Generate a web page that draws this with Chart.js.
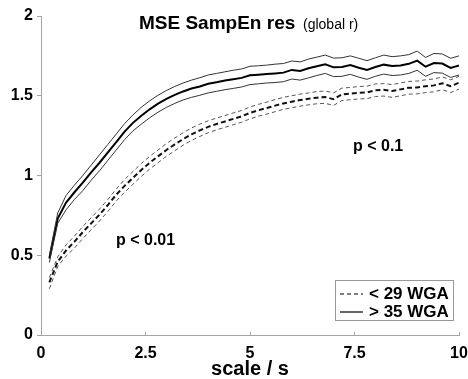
<!DOCTYPE html>
<html>
<head>
<meta charset="utf-8">
<script src="https://cdn.jsdelivr.net/npm/chart.js@4/dist/chart.umd.min.js"></script>
<style>
  html, body { margin: 0; padding: 0; background: #fff; }
  #wrap { width: 468px; height: 379px; }
</style>
</head>
<body>
<div id="wrap"><canvas id="mse" width="468" height="379"></canvas></div>
<script>
// scale axis (s), one point every 0.2 s
const scales = [0.2, 0.4, 0.6, 0.8, 1.0, 1.2, 1.4, 1.6, 1.8, 2.0,
                2.2, 2.4, 2.6, 2.8, 3.0, 3.2, 3.4, 3.6, 3.8, 4.0,
                4.2, 4.4, 4.6, 4.8, 5.0, 5.2, 5.4, 5.6, 5.8, 6.0,
                6.2, 6.4, 6.6, 6.8, 7.0, 7.2, 7.4, 7.6, 7.8, 8.0,
                8.2, 8.4, 8.6, 8.8, 9.0, 9.2, 9.4, 9.6, 9.8, 10.0];

// > 35 WGA: mean and upper / lower band
const mean35 = [0.48, 0.73, 0.83, 0.895, 0.955, 1.02, 1.08, 1.145, 1.21, 1.275,
                1.33, 1.375, 1.415, 1.45, 1.48, 1.505, 1.527, 1.545, 1.558, 1.575,
                1.585, 1.595, 1.603, 1.612, 1.628, 1.632, 1.636, 1.64, 1.645, 1.662,
                1.655, 1.672, 1.685, 1.697, 1.678, 1.68, 1.692, 1.676, 1.662, 1.68,
                1.695, 1.686, 1.69, 1.70, 1.72, 1.682, 1.705, 1.702, 1.675, 1.69];
const upper35 = [0.50, 0.765, 0.875, 0.94, 1.0, 1.065, 1.13, 1.195, 1.26, 1.325,
                 1.38, 1.428, 1.468, 1.503, 1.533, 1.558, 1.58, 1.598, 1.613, 1.63,
                 1.64, 1.65, 1.66, 1.668, 1.685, 1.688, 1.692, 1.698, 1.702, 1.718,
                 1.712, 1.73, 1.742, 1.755, 1.736, 1.738, 1.75, 1.735, 1.72, 1.738,
                 1.755, 1.745, 1.75, 1.758, 1.78, 1.74, 1.765, 1.762, 1.735, 1.75];
const lower35 = [0.455, 0.70, 0.785, 0.85, 0.905, 0.97, 1.03, 1.095, 1.16, 1.225,
                 1.28, 1.322, 1.362, 1.397, 1.427, 1.452, 1.474, 1.49, 1.503, 1.518,
                 1.528, 1.538, 1.546, 1.555, 1.57, 1.575, 1.58, 1.583, 1.588, 1.605,
                 1.598, 1.612, 1.627, 1.64, 1.62, 1.622, 1.634, 1.617, 1.603, 1.622,
                 1.636, 1.627, 1.63, 1.64, 1.66, 1.622, 1.645, 1.642, 1.615, 1.63];

// < 29 WGA: mean and upper / lower band
const mean29 = [0.33, 0.46, 0.53, 0.585, 0.645, 0.70, 0.755, 0.815, 0.88, 0.935,
                0.985, 1.035, 1.08, 1.12, 1.16, 1.195, 1.228, 1.258, 1.283, 1.305,
                1.323, 1.339, 1.355, 1.371, 1.393, 1.409, 1.423, 1.438, 1.452, 1.463,
                1.473, 1.481, 1.488, 1.492, 1.478, 1.509, 1.513, 1.519, 1.521, 1.535,
                1.537, 1.53, 1.54, 1.55, 1.552, 1.56, 1.565, 1.578, 1.56, 1.582];
const upper29 = [0.36, 0.49, 0.565, 0.62, 0.68, 0.735, 0.79, 0.85, 0.915, 0.975,
                 1.025, 1.075, 1.12, 1.16, 1.2, 1.235, 1.268, 1.298, 1.322, 1.343,
                 1.36, 1.376, 1.392, 1.408, 1.43, 1.446, 1.46, 1.476, 1.49, 1.5,
                 1.51, 1.518, 1.526, 1.53, 1.518, 1.548, 1.552, 1.558, 1.56, 1.574,
                 1.576, 1.57, 1.58, 1.59, 1.592, 1.6, 1.605, 1.618, 1.6, 1.622];
const lower29 = [0.29, 0.43, 0.495, 0.545, 0.605, 0.66, 0.715, 0.775, 0.84, 0.895,
                 0.945, 0.995, 1.04, 1.08, 1.12, 1.155, 1.19, 1.22, 1.245, 1.268,
                 1.286, 1.302, 1.318, 1.334, 1.355, 1.372, 1.385, 1.4, 1.415, 1.425,
                 1.435, 1.443, 1.45, 1.452, 1.44, 1.47, 1.475, 1.48, 1.482, 1.495,
                 1.498, 1.49, 1.5, 1.51, 1.512, 1.52, 1.525, 1.538, 1.52, 1.542];

const legendLabels = ['< 29 WGA', '> 35 WGA'];
const xTicks = [0, 2.5, 5, 7.5, 10];
const yTicks = [0, 0.5, 1, 1.5, 2];

const FONT = "'Liberation Sans', Arial, sans-serif";
const AXIS_GREY = '#a4a4a4';

function pts(values) {
    return scales.map((s, i) => ({ x: s, y: values[i] }));
}

function line(label, values, width, color, dash) {
    return {
        label: label,
        data: pts(values),
        borderColor: color,
        borderWidth: width,
        borderDash: dash || [],
        pointRadius: 0,
        tension: 0,
        fill: false
    };
}

// title, p-value notes and the boxed legend, drawn over the plot
const overlay = {
    id: 'overlay',
    afterDraw(chart) {
        const ctx = chart.ctx;
        ctx.save();
        ctx.fillStyle = '#000';
        ctx.textBaseline = 'middle';

        ctx.font = 'bold 19px ' + FONT;
        ctx.textAlign = 'left';
        ctx.fillText('MSE SampEn res', 139, 24);
        ctx.font = '14px ' + FONT;
        ctx.fillText('(global r)', 303, 25);

        ctx.font = 'bold 16px ' + FONT;
        ctx.fillText('p < 0.1', 353, 147);
        ctx.fillText('p < 0.01', 116, 241);

        // legend box
        ctx.strokeStyle = '#999';
        ctx.lineWidth = 1;
        ctx.strokeRect(335.5, 280.5, 118, 40);
        ctx.font = 'bold 17px ' + FONT;
        ctx.strokeStyle = '#000';
        ctx.lineWidth = 1.2;
        ctx.setLineDash([4, 3]);
        ctx.beginPath(); ctx.moveTo(340, 294); ctx.lineTo(363, 294); ctx.stroke();
        ctx.setLineDash([]);
        ctx.beginPath(); ctx.moveTo(340, 312); ctx.lineTo(363, 312); ctx.stroke();
        ctx.fillText(legendLabels[0], 369, 294);
        ctx.fillText(legendLabels[1], 369, 312);
        ctx.restore();
    }
};

new Chart(document.getElementById('mse'), {
    type: 'line',
    data: {
        datasets: [
            line('upper29', upper29, 1, '#555', [4, 3]),
            line('lower29', lower29, 1, '#555', [4, 3]),
            line(legendLabels[0], mean29, 2, '#111', [5, 3]),
            line('upper35', upper35, 1, '#333'),
            line('lower35', lower35, 1, '#333'),
            line(legendLabels[1], mean35, 2, '#000')
        ]
    },
    options: {
        responsive: false,
        animation: false,
        layout: { padding: { top: 16, right: 9, left: 0, bottom: 0 } },
        plugins: {
            legend: { display: false },
            tooltip: { enabled: false }
        },
        scales: {
            x: {
                type: 'linear',
                min: 0,
                max: 10,
                afterBuildTicks: s => { s.ticks = xTicks.map(v => ({ value: v })); },
                afterFit: s => { s.height = 44; s.paddingRight = 0; s.paddingLeft = 0; },
                border: { color: AXIS_GREY, width: 1 },
                grid: { drawOnChartArea: false, color: AXIS_GREY, tickLength: -3 },
                ticks: {
                    color: '#000',
                    padding: 12,
                    maxRotation: 0,
                    callback: v => String(v),
                    font: { family: FONT, size: 16, weight: 'bold' }
                },
                title: {
                    display: true,
                    text: 'scale / s',
                    color: '#000',
                    padding: { top: 0, bottom: -2 },
                    font: { family: FONT, size: 20, weight: 'bold' }
                }
            },
            y: {
                min: 0,
                max: 2,
                afterBuildTicks: s => { s.ticks = yTicks.map(v => ({ value: v })); },
                afterFit: s => { s.width = 41; },
                border: { color: AXIS_GREY, width: 1 },
                grid: { drawOnChartArea: false, color: AXIS_GREY, tickLength: 4 },
                ticks: {
                    color: '#000',
                    padding: 4,
                    callback: v => String(v),
                    font: { family: FONT, size: 16, weight: 'bold' }
                }
            }
        }
    },
    plugins: [overlay]
});
</script>
</body>
</html>
